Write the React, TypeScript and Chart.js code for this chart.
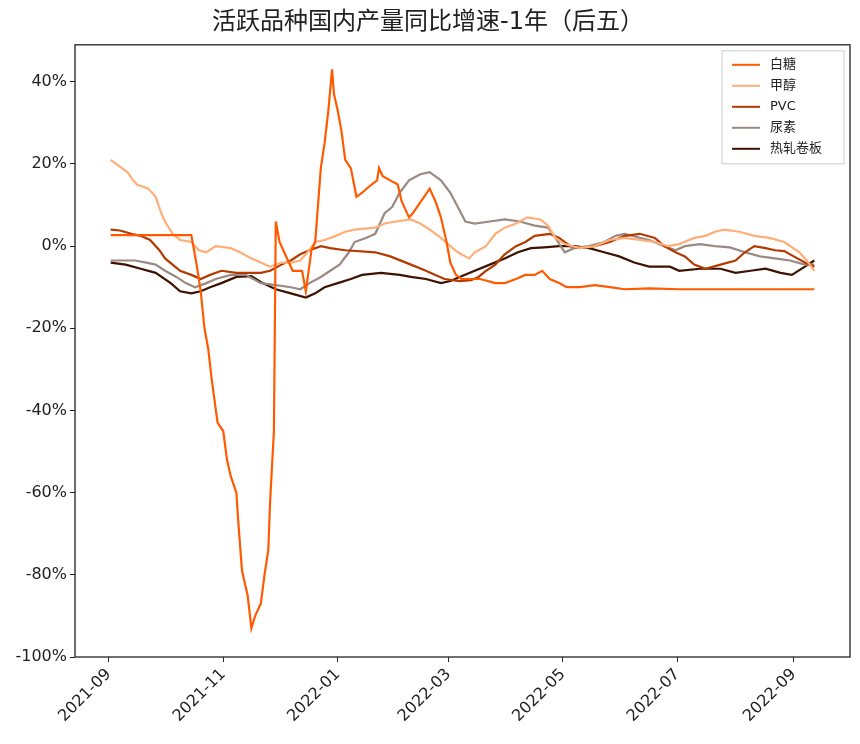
import { useEffect, useRef } from 'react';
import { Chart, registerables } from 'chart.js';

Chart.register(...registerables);

// x = days since 2021-09-01, y = growth (%)
const sugar = [[1,2.7],[44,2.7],[47,-5],[49,-11],[51,-20],[53,-25],[55,-33],[58,-43],[61,-45],[63,-52],[65,-56],[68,-60],[69,-67],[71,-79],[74,-85],[76,-93],[78,-90],[81,-87],[83,-80],[85,-74],[86,-62],[88,-45],[89,6],[91,1],[93,-1],[96,-4],[98,-6],[103,-6],[105,-11],[108,-1],[110,1],[113,19],[115,25],[117,33],[119,43],[120,37],[122,33],[124,28],[126,21],[129,19],[132,12],[135,13],[140,15],[143,16],[144,19],[146,17],[150,16],[154,15],[156,11],[160,7],[162,8],[165,10],[168,12],[171,14],[174,11],[177,7],[180,1],[182,-4],[185,-7],[188,-8],[193,-8],[198,-8],[206,-9],[211,-9],[217,-8],[222,-7],[227,-7],[231,-6],[235,-8],[240,-9],[244,-10],[251,-10],[259,-9.5],[267,-10],[275,-10.5],[288,-10.3],[304,-10.5],[376,-10.5]];
const methanol = [[1,21],[4,20],[7,19],[10,18],[13,16],[15,15],[21,14],[25,12],[28,8],[30,6],[34,3],[38,1.5],[44,1],[48,-1],[52,-1.5],[57,0],[65,-0.5],[70,-1.5],[76,-3],[81,-4],[86,-5],[92,-4],[97,-4],[102,-3.5],[105,-2],[110,1],[115,1.5],[121,2.5],[126,3.5],[131,4],[142,4.5],[147,5.5],[153,6],[161,6.5],[166,5.5],[171,4],[177,2],[182,0],[186,-1.5],[192,-3],[195,-1.5],[201,0],[206,3],[211,4.5],[217,5.5],[223,7],[230,6.5],[234,5],[238,2],[243,0.5],[251,-0.5],[259,0],[267,1.5],[275,2],[283,1.5],[291,1],[298,0],[304,0.5],[312,2],[318,2.5],[323,3.5],[328,4],[336,3.5],[344,2.5],[352,2],[360,1],[368,-1.5],[372,-3.5],[376,-6]];
const pvc = [[1,4],[6,3.8],[12,3],[17,2.5],[22,1.5],[27,-1],[30,-3],[34,-4.5],[38,-6],[44,-7],[49,-8],[54,-7],[60,-6],[68,-6.5],[81,-6.5],[86,-6],[92,-4.5],[97,-3.5],[102,-2],[107,-1],[113,0],[118,-0.5],[126,-1],[142,-1.5],[150,-2.5],[161,-4.5],[169,-6],[174,-7],[179,-8],[187,-8.5],[193,-8.3],[197,-7.5],[201,-6],[206,-4.5],[211,-2],[217,0],[222,1],[227,2.5],[235,3],[240,2],[246,0],[251,-0.5],[259,0],[267,1],[275,2.5],[283,3],[291,2],[296,0],[302,-1.5],[307,-2.5],[312,-4.5],[318,-5.5],[326,-4.5],[334,-3.5],[339,-1.5],[344,0],[350,-0.5],[355,-1],[360,-1.2],[365,-2.5],[371,-4],[376,-5]];
const urea = [[1,-3.5],[14,-3.5],[20,-4],[25,-4.5],[30,-6],[36,-7.5],[41,-9],[46,-10],[52,-9],[57,-8],[65,-7],[73,-7],[81,-9],[89,-9.5],[97,-10],[102,-10.5],[107,-9],[113,-7.5],[118,-6],[123,-4.5],[128,-1.5],[131,1],[137,2],[142,3],[147,8],[151,9.5],[155,13],[160,16],[166,17.5],[171,18],[177,16],[182,13],[186,9.5],[190,6],[195,5.5],[203,6],[211,6.5],[219,6],[227,5],[234,4.5],[238,2],[243,-1.5],[248,-0.5],[256,0],[264,1],[270,2.5],[275,3],[283,2],[288,1.5],[296,0],[302,-1],[307,0],[315,0.5],[323,0],[331,-0.3],[339,-1.5],[347,-2.5],[355,-3],[363,-3.5],[371,-4.5],[376,-4.5]];
const hrc = [[1,-4],[9,-4.5],[17,-5.5],[25,-6.5],[33,-9],[38,-11],[44,-11.5],[49,-11],[54,-10],[60,-9],[68,-7.5],[76,-7.3],[82,-9],[89,-10.5],[97,-11.5],[105,-12.5],[110,-11.5],[115,-10],[122,-9],[129,-8],[135,-7],[145,-6.5],[155,-7],[161,-7.5],[169,-8],[177,-9],[182,-8.5],[187,-7.5],[195,-6],[203,-4.5],[211,-3],[218,-1.5],[225,-0.5],[232,-0.3],[240,0],[248,0],[256,-0.5],[264,-1.5],[272,-2.5],[280,-4],[288,-5],[299,-5],[304,-6],[315,-5.5],[326,-5.5],[334,-6.5],[342,-6],[350,-5.5],[358,-6.5],[364,-7],[371,-5],[376,-3.5]];

const seriesNames = ['白糖', '甲醇', 'PVC', '尿素', '热轧卷板'];
const seriesData = [sugar, methanol, pvc, urea, hrc];
const seriesColors = ['#ff5a00', '#ffae78', '#b33a00', '#9b8a84', '#3d1200'];
const tickDays = [0, 61, 122, 181, 242, 303, 365];
const tickLabels = ['2021-09', '2021-11', '2022-01', '2022-03', '2022-05', '2022-07', '2022-09'];
const yTicks = [40, 20, 0, -20, -40, -60, -80, -100];

const FONT = "'DejaVu Sans', 'Noto Sans CJK SC', sans-serif";

const framePlugin = {
  id: 'frame',
  afterDraw(chart: any) {
    const { ctx, chartArea: a } = chart;
    ctx.save();
    ctx.strokeStyle = '#222';
    ctx.lineWidth = 1.3;
    ctx.strokeRect(a.left, a.top, a.right - a.left, a.bottom - a.top);
    // legend box
    const w = 122, lh = 21, h = seriesNames.length * lh + 8;
    const x0 = a.right - w - 6, y0 = a.top + 6;
    ctx.fillStyle = 'rgba(255,255,255,0.85)';
    ctx.strokeStyle = '#ccc';
    ctx.lineWidth = 1;
    ctx.fillRect(x0, y0, w, h);
    ctx.strokeRect(x0, y0, w, h);
    ctx.font = `13px ${FONT}`;
    ctx.textBaseline = 'middle';
    seriesNames.forEach((n, i) => {
      const y = y0 + 14 + i * lh;
      ctx.strokeStyle = seriesColors[i];
      ctx.lineWidth = 2;
      ctx.beginPath();
      ctx.moveTo(x0 + 10, y);
      ctx.lineTo(x0 + 38, y);
      ctx.stroke();
      ctx.fillStyle = '#222';
      ctx.fillText(n, x0 + 48, y);
    });
    ctx.restore();
  },
};

export default function App() {
  const ref = useRef<HTMLCanvasElement | null>(null);

  useEffect(() => {
    if (!ref.current) return;
    const chart = new Chart(ref.current, {
      type: 'line',
      data: {
        datasets: seriesData.map((d, i) => ({
          label: seriesNames[i],
          data: d.map(([x, y]) => ({ x, y })),
          borderColor: seriesColors[i],
          borderWidth: 2.2,
          pointRadius: 0,
          tension: 0,
        })),
      },
      plugins: [framePlugin],
      options: {
        animation: false,
        responsive: false,
        layout: { padding: { left: 6, right: 10, top: 4 } },
        plugins: {
          legend: { display: false },
          tooltip: { enabled: false },
          title: {
            display: true,
            text: '活跃品种国内产量同比增速-1年（后五）',
            color: '#222',
            font: { family: FONT, size: 24, weight: 'normal' },
            padding: { top: 4, bottom: 8 },
          },
        },
        scales: {
          x: {
            type: 'linear',
            min: -18,
            max: 395,
            afterBuildTicks: (s: any) => {
              s.ticks = tickDays.map((v) => ({ value: v }));
            },
            afterFit: (s: any) => {
              s.height = 87;
            },
            grid: { display: true, drawOnChartArea: false, tickLength: 5, color: '#222' },
            border: { display: false },
            ticks: {
              autoSkip: false,
              maxRotation: 45,
              minRotation: 45,
              color: '#222',
              font: { family: FONT, size: 16 },
              callback: (v: any) => tickLabels[tickDays.indexOf(Number(v))] ?? '',
            },
          },
          y: {
            min: -100,
            max: 49,
            afterBuildTicks: (s: any) => {
              s.ticks = yTicks.map((v) => ({ value: v }));
            },
            afterFit: (s: any) => {
              s.width = 69;
            },
            grid: { display: true, drawOnChartArea: false, tickLength: 5, color: '#222' },
            border: { display: false },
            ticks: {
              color: '#222',
              font: { family: FONT, size: 16 },
              callback: (v: any) => `${v}%`,
            },
          },
        },
      },
    });
    return () => chart.destroy();
  }, []);

  return (
    <div style={{ position: 'fixed', left: 0, top: 0, width: 860, height: 744, background: '#fff' }}>
      <canvas ref={ref} width={860} height={744} />
    </div>
  );
}
